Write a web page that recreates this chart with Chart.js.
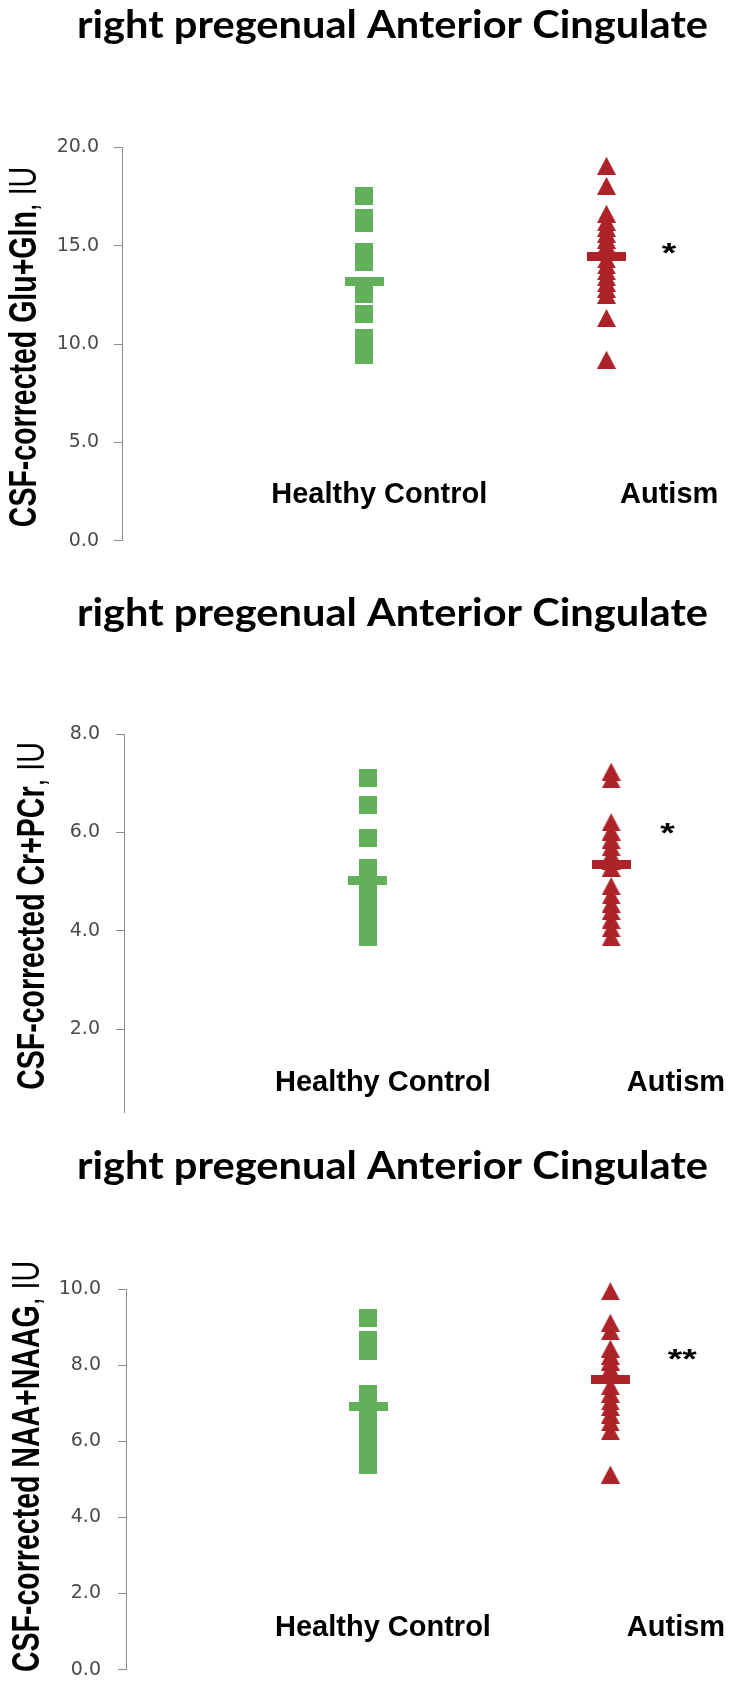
<!DOCTYPE html>
<html><head><meta charset="utf-8">
<script src="https://cdn.jsdelivr.net/npm/chart.js@4.4.1/dist/chart.umd.min.js"></script>
<style>
html,body{margin:0;padding:0;background:#fff;}
body{width:730px;height:1698px;position:relative;overflow:hidden;}
canvas{position:absolute;left:0;}
</style></head><body>
<canvas id="c1" width="730" height="570" style="top:0px"></canvas>
<canvas id="c2" width="730" height="570" style="top:570px"></canvas>
<canvas id="c3" width="730" height="558" style="top:1140px"></canvas>
<script>
// ---------- data ----------
const categories = ['Healthy Control', 'Autism'];
const panelTitle = 'right pregenual Anterior Cingulate';
const yTitles = ['CSF-corrected Glu+Gln', 'CSF-corrected Cr+PCr', 'CSF-corrected NAA+NAAG'];
const yUnit = ', IU';
const significance = ['*', '*', '**'];

const glxTicks = [0, 5, 10, 15, 20];
const glxControl = [17.51, 16.41, 16.14, 14.66, 14.17, 12.56, 11.54, 10.31, 9.87, 9.44];
const glxAutism = [19.06, 18.04, 16.62, 16.2, 15.9, 15.6, 15.3, 15.0, 14.7, 14.3, 14.0, 13.7, 13.4, 13.1, 12.8, 12.5, 11.32, 9.20];
const glxMeans = [13.19, 14.46];

const crTicks = [2, 4, 6, 8];
const crControl = [7.11, 6.57, 5.89, 5.28, 4.77, 4.45, 4.2, 4.05, 3.95, 3.87];
const crAutism = [7.24, 7.08, 6.21, 6.02, 5.85, 5.7, 5.55, 5.42, 5.28, 4.91, 4.72, 4.55, 4.4, 4.22, 4.05, 3.87];
const crMeans = [5.02, 5.36];

const naaTicks = [0, 2, 4, 6, 8, 10];
const naaControl = [9.25, 8.67, 8.37, 7.24, 6.92, 6.62, 6.13, 5.77, 5.5, 5.38];
const naaAutism = [9.95, 9.12, 8.9, 8.44, 8.25, 8.1, 7.9, 7.75, 7.45, 7.25, 7.05, 6.9, 6.7, 6.5, 6.27, 5.13];
const naaMeans = [6.93, 7.64];

// ---------- styles ----------
const GREEN = '#62b15a';
const RED = '#ae2229';
const AXIS = '#8c8c8c';

function makeImg(w, h, draw) {
  const c = document.createElement('canvas');
  c.width = w; c.height = h;
  const g = c.getContext('2d');
  draw(g, w, h);
  return c;
}
const squareImg = makeImg(18, 18, (g, w, h) => { g.fillStyle = GREEN; g.fillRect(0, 0, w, h); });
const triangleImg = makeImg(19, 18, (g, w, h) => {
  g.fillStyle = RED; g.beginPath(); g.moveTo(0, h); g.lineTo(w / 2, 0); g.lineTo(w, h); g.closePath(); g.fill();
});
const greenBar = makeImg(39, 9, (g, w, h) => { g.fillStyle = GREEN; g.fillRect(0, 0, w, h); });
const redBar = makeImg(39, 9, (g, w, h) => { g.fillStyle = RED; g.fillRect(0, 0, w, h); });

function drawStretched(ctx, text, x, y, font, sx, align) {
  ctx.save();
  ctx.translate(x, y);
  ctx.scale(sx, 1);
  ctx.font = font;
  ctx.textAlign = align;
  ctx.textBaseline = 'alphabetic';
  ctx.fillText(text, 0, 0);
  ctx.restore();
}

const decor = {
  id: 'decor',
  afterDraw(chart, args, o) {
    const ctx = chart.ctx, xs = chart.scales.x, ys = chart.scales.y;
    ctx.save();
    ctx.fillStyle = '#000';
    // main title (Calibri-like, horizontally stretched)
    ctx.font = 'bold ' + o.titleSize + 'px Lato';
    const tw = ctx.measureText(panelTitle).width;
    drawStretched(ctx, panelTitle, o.titleX, o.titleBaseline, ctx.font, o.titleWidth / tw, 'center');

    // rotated y-axis title: bold part + regular unit
    ctx.save();
    ctx.translate(o.yTitleX, o.yTitleY);
    ctx.rotate(-Math.PI / 2);
    ctx.scale(1, 1.33);
    const fb = 'bold 28.5px "Liberation Sans", Arial, sans-serif';
    const fr = '28.5px "Liberation Sans", Arial, sans-serif';
    ctx.font = fb; const w1 = ctx.measureText(o.yTitle).width;
    ctx.font = fr; const w2 = ctx.measureText(yUnit).width;
    const start = -(w1 + w2) / 2;
    ctx.textBaseline = 'alphabetic'; ctx.textAlign = 'left';
    ctx.font = fb; ctx.fillText(o.yTitle, start, 0);
    ctx.font = fr; ctx.fillText(yUnit, start + w1, 0);
    ctx.restore();

    // category labels
    ctx.font = 'bold 29px "Liberation Sans", Arial, sans-serif';
    ctx.textAlign = 'center'; ctx.textBaseline = 'alphabetic';
    categories.forEach((c, i) => {
      ctx.fillText(c, xs.getPixelForValue(o.labelX[i]), ys.getPixelForValue(o.labelY));
    });

    // significance stars
    const sf = 'bold 28px "Liberation Sans", Arial, sans-serif';
    ctx.font = sf;
    const m = ctx.measureText(o.star);
    const cy = ys.getPixelForValue(o.starY);
    const base = cy + (m.actualBoundingBoxAscent - m.actualBoundingBoxDescent) / 2;
    drawStretched(ctx, o.star, xs.getPixelForValue(o.starX), base, sf, 1.33, 'center');
    ctx.restore();
  }
};

function makeChart(id, p) {
  const ctrl = p.control.map(v => ({ x: 1, y: v }));
  const aut = p.autism.map(v => ({ x: 2, y: v }));
  const means = p.means.map((v, i) => ({ x: i + 1, y: v }));
  return new Chart(document.getElementById(id), {
    type: 'scatter',
    data: {
      datasets: [
        { label: 'Mean', data: means, pointStyle: [greenBar, redBar], pointRadius: 10, clip: false },
        { label: categories[0], data: ctrl, pointStyle: squareImg, pointRadius: 9, clip: false },
        { label: categories[1], data: aut, pointStyle: triangleImg, pointRadius: 9, clip: false }
      ]
    },
    plugins: [decor],
    options: {
      responsive: false,
      animation: false,
      events: [],
      layout: { autoPadding: false, padding: { left: 0, right: 0, top: p.top, bottom: p.bottom } },
      scales: {
        x: { type: 'linear', display: false, min: 0, max: p.xMax },
        y: {
          type: 'linear', min: p.yMin, max: p.yMax,
          afterBuildTicks: s => { s.ticks = p.ticks.map(v => ({ value: v })); },
          afterFit: s => { s.width = p.axisX; },
          ticks: {
            padding: p.tickPad,
            color: '#4a4a4a',
            font: { family: '"DejaVu Sans", sans-serif', size: 19 },
            callback: v => Number(v).toFixed(1)
          },
          grid: { display: true, drawOnChartArea: false, drawTicks: true, tickLength: 8, color: AXIS, lineWidth: 1 },
          border: { display: true, color: AXIS, width: 1 }
        }
      },
      plugins: {
        legend: { display: false },
        tooltip: { enabled: false },
        decor: {
          titleSize: 39, titleWidth: 631, titleX: 392.5, titleBaseline: p.titleBaseline,
          yTitle: p.yTitle, yTitleX: p.yTitleX, yTitleY: p.yTitleY,
          labelX: p.labelX, labelY: p.labelY,
          star: p.star, starX: p.starX, starY: p.starY
        }
      }
    }
  });
}

makeChart('c1', {
  control: glxControl, autism: glxAutism, means: glxMeans, ticks: glxTicks,
  yMin: 0, yMax: 20, xMax: 2.51, axisX: 122, top: 147.3, bottom: 570 - 540.7, tickPad: 15,
  titleBaseline: 38, yTitle: yTitles[0], yTitleX: 36, yTitleY: 347,
  labelX: [1.062, 2.259], labelY: 1.90, star: significance[0], starX: 2.258, starY: 14.86
});
makeChart('c2', {
  control: crControl, autism: crAutism, means: crMeans, ticks: crTicks,
  yMin: 0.3, yMax: 8, xMax: 2.488, axisX: 124, top: 164.3, bottom: 570 - 545, tickPad: 16,
  titleBaseline: 56, yTitle: yTitles[1], yTitleX: 44, yTitleY: 346,
  labelX: [1.063, 2.266], labelY: 0.746, star: significance[1], starX: 2.231, starY: 6.08
});
makeChart('c3', {
  control: naaControl, autism: naaAutism, means: naaMeans, ticks: naaTicks,
  yMin: 0, yMax: 10, xMax: 2.494, axisX: 126, top: 149.3, bottom: 558 - 541, tickPad: 17,
  titleBaseline: 39, yTitle: yTitles[2], yTitleX: 39, yTitleY: 326.5,
  labelX: [1.061, 2.271], labelY: 0.894, star: significance[2], starX: 2.297, starY: 8.28
});
</script>
</body></html>
